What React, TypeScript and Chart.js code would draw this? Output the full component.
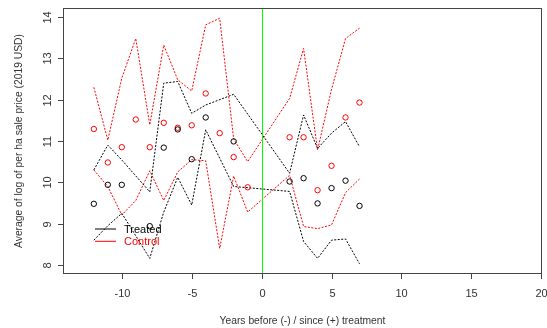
import React, { useEffect, useRef } from "react";
import { Chart, registerables } from "chart.js";

Chart.register(...registerables);

// Event-time axis (years relative to treatment)
const treatedYears = [-12, -11, -10, -8, -7, -6, -5, -4, -2, 2, 3, 4, 5, 6, 7];
const treatedMean = [9.48, 9.94, 9.94, 8.94, 10.84, 11.28, 10.56, 11.57, 10.99, 10.02, 10.1, 9.49, 9.86, 10.04, 9.43];
const treatedUpper = [10.3, 10.9, 10.54, 9.77, 12.4, 12.44, 11.67, 11.87, 12.13, 10.22, 11.63, 10.82, 11.19, 11.47, 10.86];
const treatedLower = [8.6, 8.95, 9.25, 8.16, 9.28, 10.12, 9.45, 11.27, 9.9, 9.78, 8.57, 8.16, 8.6, 8.63, 8.03];

const controlYears = [-12, -11, -10, -9, -8, -7, -6, -5, -4, -3, -2, -1, 2, 3, 4, 5, 6, 7];
const controlMean = [11.29, 10.48, 10.85, 11.52, 10.85, 11.44, 11.32, 11.38, 12.15, 11.19, 10.61, 9.88, 11.09, 11.09, 9.81, 10.4, 11.57, 11.93];
const controlUpper = [12.3, 11.02, 12.52, 13.48, 11.39, 13.32, 12.48, 12.21, 13.81, 13.97, 11.05, 10.5, 12.03, 13.24, 10.78, 12.25, 13.48, 13.73];
const controlLower = [10.3, 9.9, 9.21, 9.56, 10.28, 9.56, 10.25, 10.55, 10.52, 8.4, 10.15, 9.28, 10.17, 8.93, 8.88, 8.97, 9.75, 10.08];

const xTicks = [-10, -5, 0, 5, 10, 15, 20];
const yTicks = [8, 9, 10, 11, 12, 13, 14];
const treatmentYear = 0;

const xTitle = "Years before (-) / since (+) treatment";
const yTitle = "Average of log of per ha sale price (2019 USD)";
const legendItems = [
  { label: "Treated", color: "#000000" },
  { label: "Control", color: "#ff0000" },
];

const FONT = '"Liberation Sans", Arial, sans-serif';
const DOT = [2, 1.5];

const pts = (xs: number[], ys: number[]) => xs.map((x, i) => ({ x, y: ys[i] }));

const band = (label: string, xs: number[], ys: number[], color: string) => ({
  label,
  data: pts(xs, ys),
  showLine: true,
  borderColor: color,
  borderWidth: 1,
  borderDash: DOT,
  pointRadius: 0,
  fill: false,
});

const markers = (label: string, xs: number[], ys: number[], color: string) => ({
  label,
  data: pts(xs, ys),
  showLine: false,
  borderColor: color,
  backgroundColor: "rgba(0,0,0,0)",
  borderWidth: 1,
  pointRadius: 2.7,
  pointStyle: "circle",
});

// Base-graphics style frame: box, outward ticks, rotated y labels, titles, legend, reference line
const framePlugin = {
  id: "frame",
  afterDatasetsDraw(chart: any) {
    const { ctx, chartArea: a, scales } = chart;
    const xs = scales.x;
    const ys = scales.y;
    ctx.save();

    // vertical reference line at treatment
    const gx = Math.round(xs.getPixelForValue(treatmentYear)) + 0.5;
    ctx.strokeStyle = "#00ff00";
    ctx.lineWidth = 1;
    ctx.beginPath();
    ctx.moveTo(gx, a.top);
    ctx.lineTo(gx, a.bottom);
    ctx.stroke();

    // box
    ctx.strokeStyle = "#444444";
    ctx.lineWidth = 1;
    ctx.strokeRect(a.left + 0.5, a.top + 0.5, a.right - a.left - 1, a.bottom - a.top - 1);

    ctx.fillStyle = "#333333";
    ctx.font = `11px ${FONT}`;

    // x axis ticks
    ctx.textAlign = "center";
    ctx.textBaseline = "middle";
    for (const t of xTicks) {
      const px = Math.round(xs.getPixelForValue(t)) + 0.5;
      ctx.beginPath();
      ctx.moveTo(px, a.bottom);
      ctx.lineTo(px, a.bottom + 5);
      ctx.stroke();
      ctx.fillText(String(t), px, a.bottom + 20);
    }

    // y axis ticks (labels parallel to the axis)
    for (const t of yTicks) {
      const py = Math.round(ys.getPixelForValue(t)) + 0.5;
      ctx.beginPath();
      ctx.moveTo(a.left, py);
      ctx.lineTo(a.left - 5, py);
      ctx.stroke();
      ctx.save();
      ctx.translate(a.left - 15, py);
      ctx.rotate(-Math.PI / 2);
      ctx.fillText(String(t), 0, 0);
      ctx.restore();
    }

    // axis titles
    ctx.font = `10.3px ${FONT}`;
    ctx.fillText(xTitle, (a.left + a.right) / 2, 321);
    ctx.save();
    ctx.translate(19, (a.top + a.bottom) / 2);
    ctx.rotate(-Math.PI / 2);
    ctx.fillText(yTitle, 0, 0);
    ctx.restore();

    // legend
    ctx.font = `11px ${FONT}`;
    ctx.textAlign = "left";
    legendItems.forEach((it, i) => {
      const ly = 229 + i * 12.3;
      ctx.strokeStyle = it.color;
      ctx.beginPath();
      ctx.moveTo(95, ly);
      ctx.lineTo(116, ly);
      ctx.stroke();
      ctx.fillStyle = it.color;
      ctx.fillText(it.label, 124, ly + 1);
    });

    ctx.restore();
  },
};

export default function App() {
  const ref = useRef<HTMLCanvasElement | null>(null);

  useEffect(() => {
    if (!ref.current) return;
    const chart = new Chart(ref.current, {
      type: "scatter",
      data: {
        datasets: [
          markers("Treated", treatedYears, treatedMean, "#000000"),
          markers("Control", controlYears, controlMean, "#ff0000"),
          band("Treated upper", treatedYears, treatedUpper, "#000000"),
          band("Treated lower", treatedYears, treatedLower, "#000000"),
          band("Control upper", controlYears, controlUpper, "#ff0000"),
          band("Control lower", controlYears, controlLower, "#ff0000"),
        ] as any,
      },
      options: {
        responsive: false,
        animation: false,
        layout: { padding: { left: 63, right: 4, top: 8, bottom: 54 } },
        plugins: { legend: { display: false }, tooltip: { enabled: false } },
        scales: {
          x: { type: "linear", min: -14.205, max: 20.05, display: false },
          y: { type: "linear", min: 7.782, max: 14.218, display: false },
        },
      },
      plugins: [framePlugin],
    });
    return () => chart.destroy();
  }, []);

  return (
    <canvas
      ref={ref}
      width={547}
      height={328}
      style={{ position: "fixed", left: 0, top: 0, display: "block", background: "#ffffff" }}
    />
  );
}
